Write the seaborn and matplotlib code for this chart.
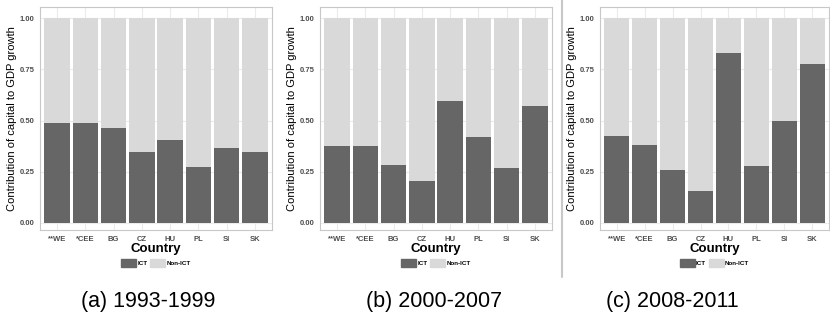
import matplotlib
matplotlib.use("Agg")
import matplotlib.pyplot as plt
import pandas as pd
import seaborn as sns
from matplotlib.lines import Line2D
from matplotlib.patches import Patch

countries = ["**WE", "*CEE", "BG", "CZ", "HU", "PL", "SI", "SK"]
periods = ["(a) 1993-1999", "(b) 2000-2007", "(c) 2008-2011"]

ict_1993 = [0.489, 0.489, 0.465, 0.346, 0.403, 0.272, 0.365, 0.347]
ict_2000 = [0.375, 0.374, 0.282, 0.204, 0.594, 0.421, 0.266, 0.571]
ict_2008 = [0.423, 0.380, 0.258, 0.155, 0.832, 0.277, 0.499, 0.778]

non_ict_1993 = [0.511, 0.511, 0.535, 0.654, 0.597, 0.728, 0.635, 0.653]
non_ict_2000 = [0.625, 0.626, 0.718, 0.796, 0.406, 0.579, 0.734, 0.429]
non_ict_2008 = [0.577, 0.620, 0.742, 0.845, 0.168, 0.723, 0.501, 0.222]

ict_color = "#666666"
non_ict_color = "#d9d9d9"

sns.set_style("white")
plt.rcParams["font.family"] = ["Liberation Sans", "DejaVu Sans"]
plt.rcParams["text.color"] = "black"
plt.rcParams["axes.labelcolor"] = "black"

fig = plt.figure(figsize=(8.3, 3.21), dpi=100)

# panel boxes in pixels (left, width), same vertical extent
panel_px = [(40, 232), (320, 232), (600, 229)]
caption_x = [148, 434, 672]
W, H = 830, 321
bottom = 1 - 230 / H
height = 223 / H

all_ict = [ict_1993, ict_2000, ict_2008]
all_non = [non_ict_1993, non_ict_2000, non_ict_2008]

for i, period in enumerate(periods):
    left, width = panel_px[i]
    ax = fig.add_axes([left / W, bottom, width / W, height])

    df = pd.DataFrame(
        {"country": countries, "ICT": all_ict[i], "Non-ICT": all_non[i]}
    )
    df["total"] = df["ICT"] + df["Non-ICT"]

    ax.set_axisbelow(True)
    sns.barplot(data=df, x="country", y="total", color=non_ict_color,
                saturation=1, width=0.9, edgecolor="none", ax=ax, zorder=2)
    sns.barplot(data=df, x="country", y="ICT", color=ict_color,
                saturation=1, width=0.9, edgecolor="none", ax=ax, zorder=3)

    ax.set_xlim(-0.6, 7.6)
    ax.set_ylim(-0.035, 1.055)
    ax.set_yticks([0, 0.25, 0.5, 0.75, 1.0])
    ax.set_yticklabels(["0.00", "0.25", "0.50", "0.75", "1.00"])
    ax.grid(True, color="#ebebeb", linewidth=0.8)

    for s in ax.spines.values():
        s.set_color("#c8c8c8")
        s.set_linewidth(0.8)

    ax.tick_params(axis="both", length=2.5, width=0.6, color="#888888",
                   labelsize=5.5, labelcolor="#4d4d4d", pad=1.5)
    for lab in ax.get_xticklabels() + ax.get_yticklabels():
        lab.set_fontweight("bold")

    ax.set_xlabel("Country", fontsize=9.5, fontweight="bold", labelpad=0)
    ax.set_ylabel("Contribution of capital to GDP growth", fontsize=8,
                  labelpad=2)

    handles = [Patch(color=ict_color, label="ICT"),
               Patch(color=non_ict_color, label="Non-ICT")]
    leg = ax.legend(handles=handles, loc="center", bbox_to_anchor=(0.5, -0.148),
                    ncol=2, frameon=False, fontsize=4.5, handlelength=2.4,
                    handleheight=1.7, handletextpad=0.2, columnspacing=0.4)
    for t in leg.get_texts():
        t.set_fontweight("bold")

    fig.text(caption_x[i] / W, 1 - 301 / H, period, ha="center", va="center",
             fontsize=15.5)

# divider between second and third panel
fig.add_artist(Line2D([562 / W, 562 / W], [1 - 277 / H, 1.0],
                      transform=fig.transFigure, color="#c8c8c8", linewidth=1.5))

fig.savefig("out.png", dpi=100)
